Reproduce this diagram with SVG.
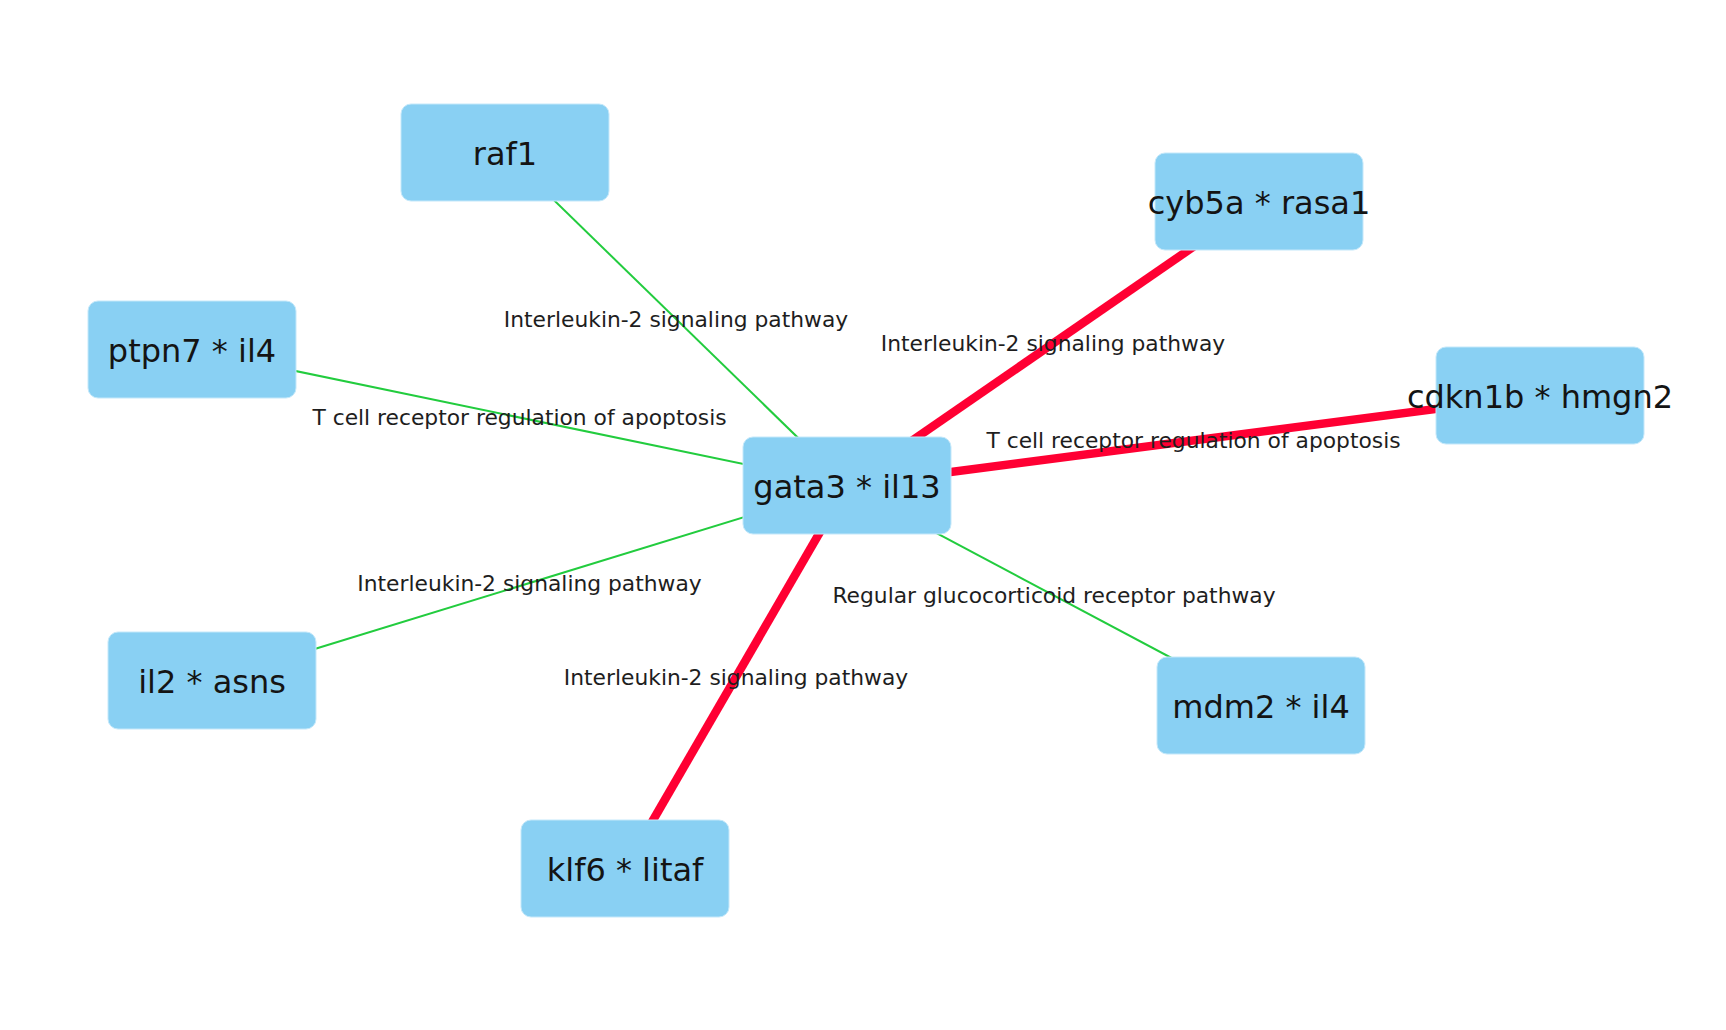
<svg xmlns="http://www.w3.org/2000/svg" width="1726" height="1030" viewBox="0 0 1726 1030">
  <style>
    .edge-weak { stroke: #22CC3E; stroke-width: 2; fill: none; }
    .edge-strong { stroke: #FF0033; stroke-width: 8.5; fill: none; }
    .edge-label { font-family: "DejaVu Sans", "Liberation Sans", sans-serif; font-size: 21.8px; fill: #1e1e1e; text-anchor: middle; }
    .node rect { fill: #89D0F3; stroke: #C4E8FA; stroke-width: 1; }
    .node text { font-family: "DejaVu Sans", "Liberation Sans", sans-serif; font-size: 32px; fill: #141414; text-anchor: middle; }
  </style>
  <rect width="1726" height="1030" fill="#FFFFFF"/>

  <!-- connectors: all edges start at the hub gata3 * il13 (847, 485.5) -->
  <g id="edges">
    <line class="edge-weak" x1="847" y1="485.5" x2="505" y2="152.5"/>
    <line class="edge-strong" x1="847" y1="485.5" x2="1259" y2="201.5"/>
    <line class="edge-weak" x1="847" y1="485.5" x2="192" y2="349.5"/>
    <line class="edge-strong" x1="847" y1="485.5" x2="1540" y2="395.5"/>
    <line class="edge-weak" x1="847" y1="485.5" x2="212" y2="680.5"/>
    <line class="edge-weak" x1="847" y1="485.5" x2="1261" y2="705.5"/>
    <line class="edge-strong" x1="847" y1="485.5" x2="625" y2="868.5"/>

    <text class="edge-label" x="676" y="326.5">Interleukin-2 signaling pathway</text>
    <text class="edge-label" x="1053" y="351">Interleukin-2 signaling pathway</text>
    <text class="edge-label" x="519.5" y="425">T cell receptor regulation of apoptosis</text>
    <text class="edge-label" x="1193.5" y="448">T cell receptor regulation of apoptosis</text>
    <text class="edge-label" x="529.5" y="590.5">Interleukin-2 signaling pathway</text>
    <text class="edge-label" x="1054" y="603">Regular glucocorticoid receptor pathway</text>
    <text class="edge-label" x="736" y="684.5">Interleukin-2 signaling pathway</text>
  </g>

  <!-- nodes: 208 x 97 rounded boxes -->
  <g id="node-raf1" class="node">
    <rect x="401" y="104" width="208" height="97" rx="10"/>
    <text x="505" y="165">raf1</text>
  </g>
  <g id="node-cyb5a-rasa1" class="node">
    <rect x="1155" y="153" width="208" height="97" rx="10"/>
    <text x="1259" y="214">cyb5a * rasa1</text>
  </g>
  <g id="node-ptpn7-il4" class="node">
    <rect x="88" y="301" width="208" height="97" rx="10"/>
    <text x="192" y="362">ptpn7 * il4</text>
  </g>
  <g id="node-cdkn1b-hmgn2" class="node">
    <rect x="1436" y="347" width="208" height="97" rx="10"/>
    <text x="1540" y="408">cdkn1b * hmgn2</text>
  </g>
  <g id="node-gata3-il13" class="node">
    <rect x="743" y="437" width="208" height="97" rx="10"/>
    <text x="847" y="498">gata3 * il13</text>
  </g>
  <g id="node-il2-asns" class="node">
    <rect x="108" y="632" width="208" height="97" rx="10"/>
    <text x="212" y="693">il2 * asns</text>
  </g>
  <g id="node-mdm2-il4" class="node">
    <rect x="1157" y="657" width="208" height="97" rx="10"/>
    <text x="1261" y="718">mdm2 * il4</text>
  </g>
  <g id="node-klf6-litaf" class="node">
    <rect x="521" y="820" width="208" height="97" rx="10"/>
    <text x="625" y="881">klf6 * litaf</text>
  </g>
</svg>
